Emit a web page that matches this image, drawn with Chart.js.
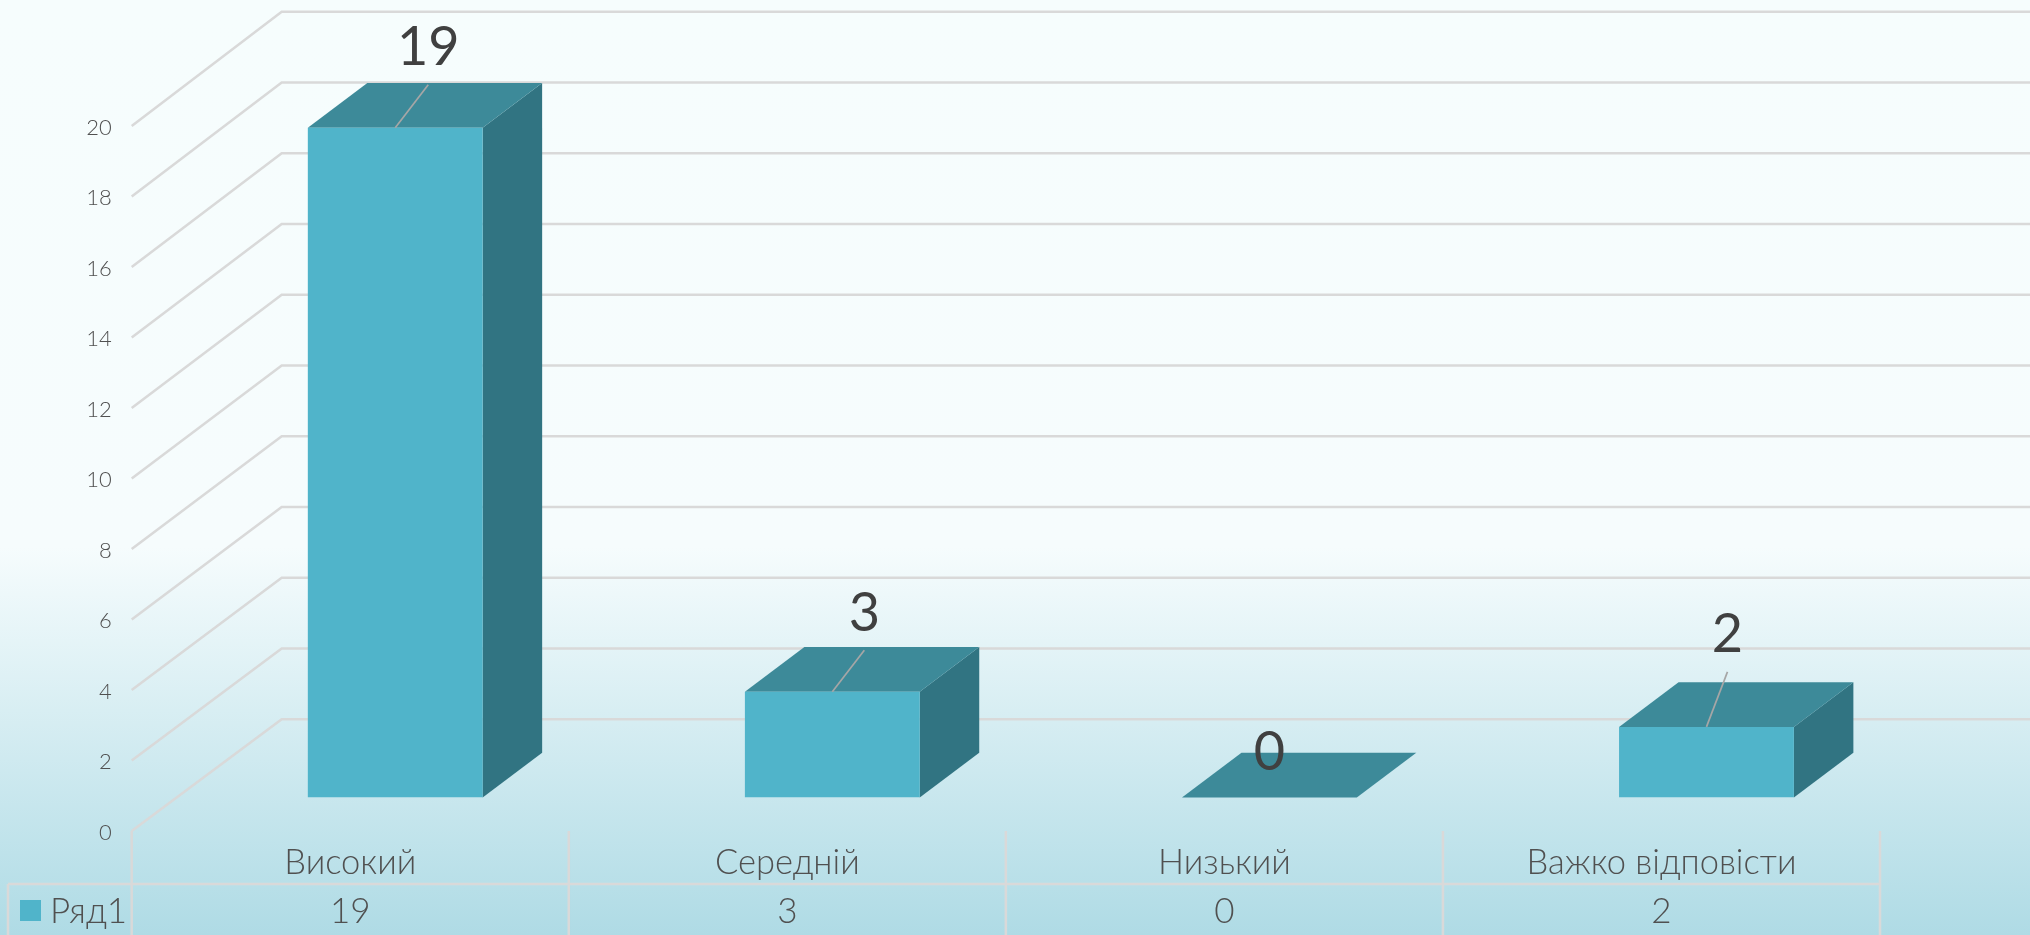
<!DOCTYPE html>
<html><head><meta charset="utf-8">
<style>
html,body{margin:0;padding:0;background:#f6fdfd}
#wrap{position:absolute;left:0;top:0;width:2030px;height:935px}
canvas{display:block}
</style>
<script src="https://cdn.jsdelivr.net/npm/chart.js@4/dist/chart.umd.min.js"></script>
</head><body><div id="wrap"><canvas id="c" width="2030" height="935"></canvas></div>
<script>
const categories = ["Високий","Середній","Низький","Важко відповісти"];
const seriesName = "Ряд1";
const seriesValues = [19,3,0,2];
const yTicks = [0,2,4,6,8,10,12,14,16,18,20];
const FONT = '"Lato","Open Sans",sans-serif';

const FRONT='#50B4CA', TOP='#3D8A99', SIDE='#317482', GRID='#d9d9d9', LEADER='#a6a6a6', TEXT='#505050';
const depth={barShiftX:45,barShiftY:-33.6,barDX:59.5,barDY:44.7,wallDX:150,wallDY0:111.7,wallDY20:114.3};
const labelOffsets=[[33,-80],[32,-78.5],[0,-44.5],[21,-92]];
const leaderGap=37;

const threeD={
  id:'threeD',
  beforeDraw(chart){
    const {ctx,width,height}=chart;
    const g=ctx.createLinearGradient(0,0,0,height);
    g.addColorStop(0,'#f6fdfd');g.addColorStop(0.585,'#f6fcfd');g.addColorStop(1,'#afdbe5');
    ctx.fillStyle=g;ctx.fillRect(0,0,width,height);
  },
  beforeDatasetsDraw(chart){
    const {ctx,chartArea:a,scales:{x,y}}=chart;
    ctx.save();ctx.strokeStyle=GRID;ctx.lineWidth=2.5;
    const y0=y.getPixelForValue(0);
    const by=v=>{const t=v/20;return y.getPixelForValue(v)-(depth.wallDY0+(depth.wallDY20-depth.wallDY0)*t);};
    for(const v of yTicks){
      const fy=y.getPixelForValue(v),bY=by(v);
      ctx.beginPath();ctx.moveTo(a.left,fy);ctx.lineTo(a.left+depth.wallDX,bY);ctx.lineTo(chart.width,bY);ctx.stroke();
    }
    // data table
    const bandW=(a.right-a.left)/categories.length, tableY=884, bottom=chart.height, tableL=8;
    ctx.beginPath();ctx.moveTo(tableL,tableY);ctx.lineTo(a.right,tableY);
    ctx.moveTo(tableL,tableY);ctx.lineTo(tableL,bottom);
    for(let i=0;i<=categories.length;i++){
      const px=a.left+i*bandW;ctx.moveTo(px,y0);ctx.lineTo(px,bottom);
    }
    ctx.stroke();
    ctx.fillStyle=TEXT;ctx.font='300 35px '+FONT;ctx.textAlign='center';ctx.textBaseline='middle';
    seriesValues.forEach((v,i)=>ctx.fillText(String(v),x.getPixelForValue(i),912));
    ctx.textAlign='left';ctx.fillText(seriesName,50,912);
    ctx.fillStyle=FRONT;ctx.fillRect(20,900,21,21);
    ctx.restore();
  },
  beforeDatasetDraw(chart){
    const {ctx}=chart;
    ctx.save();ctx.translate(depth.barShiftX,depth.barShiftY);
    const poly=(c,p)=>{ctx.fillStyle=c;ctx.beginPath();p.forEach((q,i)=>i?ctx.lineTo(q[0],q[1]):ctx.moveTo(q[0],q[1]));ctx.closePath();ctx.fill();};
    const {barDX:dx,barDY:dy}=depth;
    chart.getDatasetMeta(0).data.forEach(b=>{
      const l=b.x-b.width/2,r=b.x+b.width/2,t=b.y,base=b.base;
      if(t<base) poly(SIDE,[[r,t],[r+dx,t-dy],[r+dx,base-dy],[r,base]]);
      poly(TOP,[[l,t],[l+dx,t-dy],[r+dx,t-dy],[r,t]]);
    });
  },
  afterDatasetDraw(chart){
    chart.ctx.restore();
  },
  afterDatasetsDraw(chart){
    const {ctx}=chart;
    ctx.save();ctx.translate(depth.barShiftX,depth.barShiftY);
    chart.getDatasetMeta(0).data.forEach((b,i)=>{
      const [ox,oy]=labelOffsets[i];
      if(seriesValues[i]>0){
        ctx.strokeStyle=LEADER;ctx.lineWidth=1.7;ctx.beginPath();
        ctx.moveTo(b.x,b.y);ctx.lineTo(b.x+ox,b.y+oy+leaderGap);ctx.stroke();
      }
      ctx.fillStyle='#404040';ctx.font='400 54px '+FONT;ctx.textAlign='center';ctx.textBaseline='middle';
      ctx.fillText(String(seriesValues[i]),b.x+ox,b.y+oy);
    });
    ctx.restore();
  }
};

new Chart(document.getElementById('c'),{
  type:'bar',
  data:{labels:categories,datasets:[{label:seriesName,data:seriesValues,backgroundColor:FRONT,barPercentage:0.4,categoryPercentage:1}]},
  options:{
    responsive:false,animation:false,
    layout:{padding:{left:0,right:0,top:0,bottom:0}},
    plugins:{legend:{display:false},title:{display:false},tooltip:{enabled:false}},
    scales:{
      x:{grid:{display:false},border:{display:false},
        ticks:{color:TEXT,font:{family:FONT,size:34.5,weight:'300'},padding:3,maxRotation:0},
        afterFit(s){s.height=104;}
      },
      y:{min:0,max:20,grid:{display:false},border:{display:false},
        ticks:{stepSize:2,color:TEXT,font:{family:FONT,size:22,weight:'300'},padding:12,labelOffset:1.5},
        afterFit(s){s.width=131.7;}
      }
    }
  },
  plugins:[threeD,{id:'area',beforeLayout(chart){chart.options.layout.padding={top:126,right:150,left:0,bottom:0};}}]
});
</script></body></html>
